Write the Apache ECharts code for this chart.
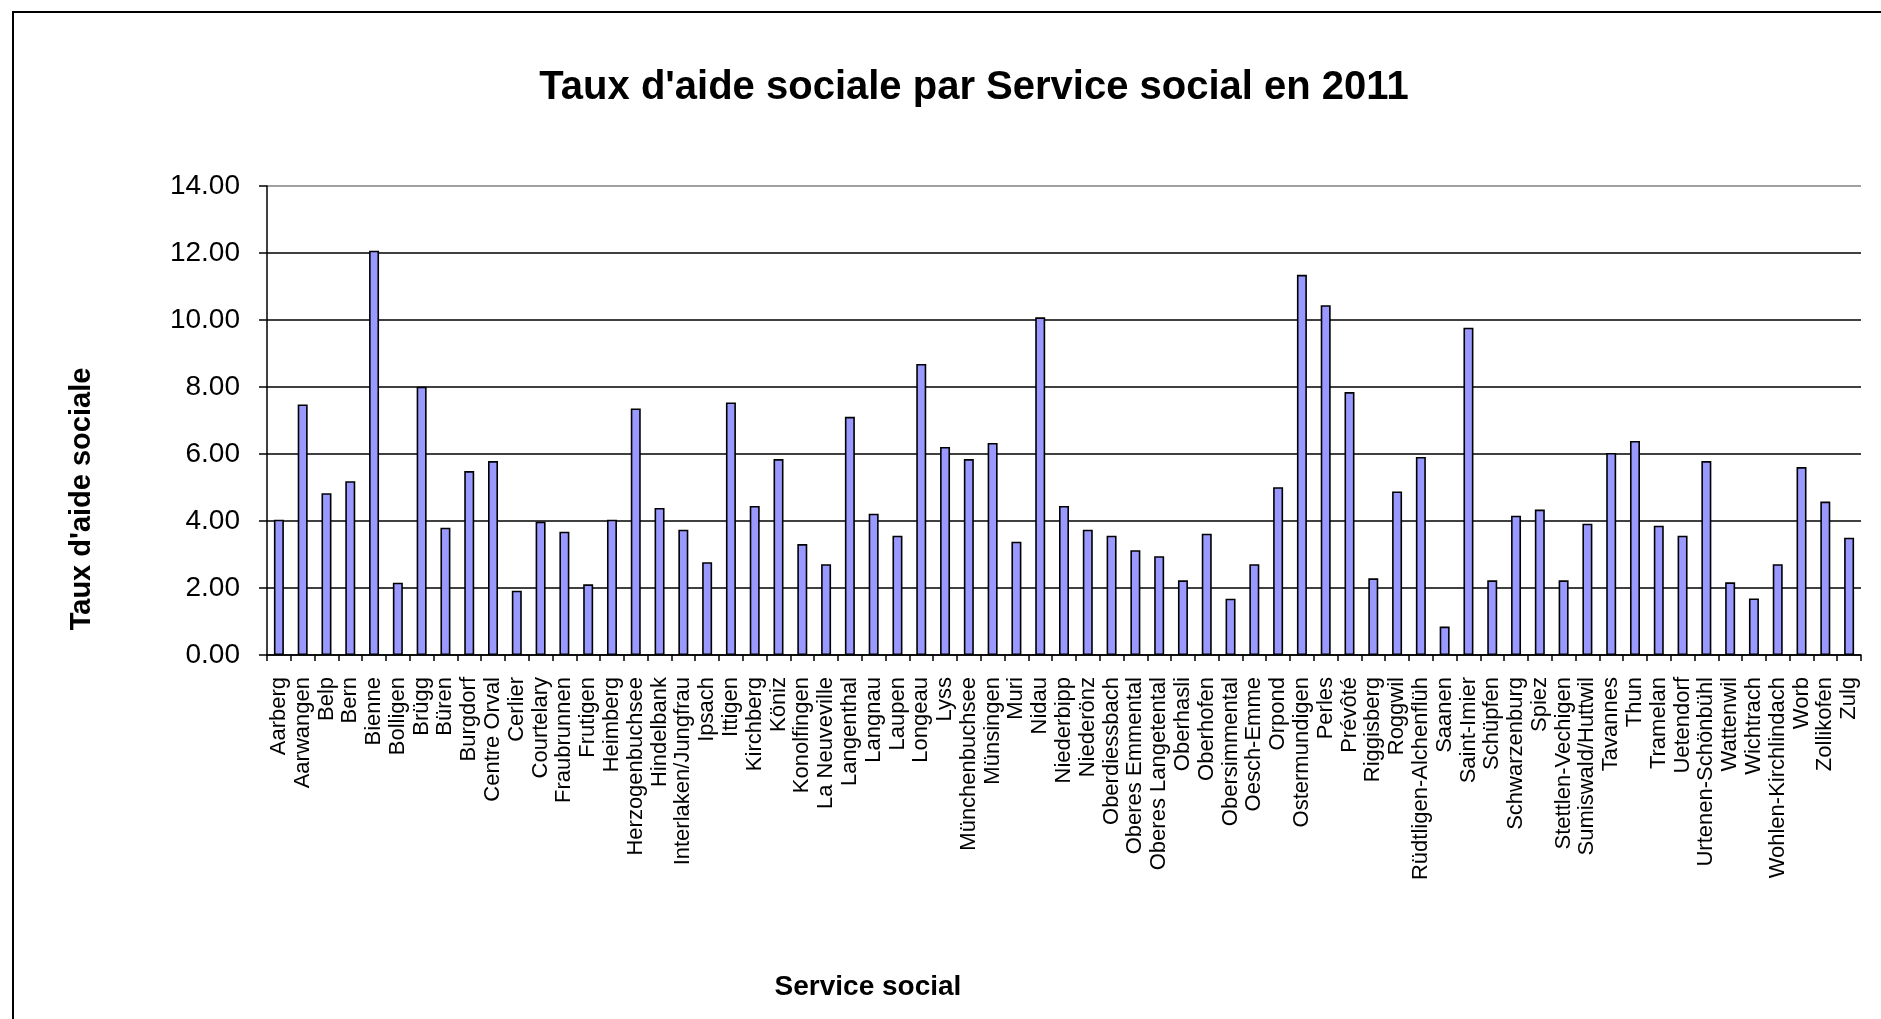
<!DOCTYPE html>
<html>
<head>
<meta charset="utf-8">
<script src="https://cdn.jsdelivr.net/npm/echarts@6/dist/echarts.min.js"></script>
<style>
html,body{margin:0;padding:0;background:#fff;}
#chart{width:1881px;height:1019px;}
</style>
</head>
<body>
<div id="chart"></div>
<script>
const titleText = "Taux d'aide sociale par Service social en 2011";
const yAxisTitle = "Taux d'aide sociale";
const xAxisTitle = "Service social";

const categories = [
  "Aarberg","Aarwangen","Belp","Bern","Bienne","Bolligen","Brügg","Büren","Burgdorf","Centre Orval",
  "Cerlier","Courtelary","Fraubrunnen","Frutigen","Heimberg","Herzogenbuchsee","Hindelbank","Interlaken/Jungfrau","Ipsach","Ittigen",
  "Kirchberg","Köniz","Konolfingen","La Neuveville","Langenthal","Langnau","Laupen","Longeau","Lyss","Münchenbuchsee",
  "Münsingen","Muri","Nidau","Niederbipp","Niederönz","Oberdiessbach","Oberes Emmental","Oberes Langetental","Oberhasli","Oberhofen",
  "Obersimmental","Oesch-Emme","Orpond","Ostermundigen","Perles","Prévôté","Riggisberg","Roggwil","Rüdtligen-Alchenflüh","Saanen",
  "Saint-Imier","Schüpfen","Schwarzenburg","Spiez","Stettlen-Vechigen","Sumiswald/Huttwil","Tavannes","Thun","Tramelan","Uetendorf",
  "Urtenen-Schönbühl","Wattenwil","Wichtrach","Wohlen-Kirchlindach","Worb","Zollikofen","Zulg"
];

const rates = [
  4.04, 7.48, 4.83, 5.19, 12.07, 2.16, 8.01, 3.80, 5.49, 5.79,
  1.92, 3.98, 3.68, 2.11, 4.04, 7.36, 4.39, 3.74, 2.77, 7.54,
  4.45, 5.85, 3.31, 2.71, 7.11, 4.22, 3.56, 8.69, 6.21, 5.85,
  6.33, 3.38, 10.08, 4.45, 3.74, 3.56, 3.13, 2.95, 2.23, 3.62,
  1.68, 2.71, 5.01, 11.35, 10.44, 7.85, 2.29, 4.88, 5.91, 0.85,
  9.77, 2.23, 4.16, 4.34, 2.23, 3.92, 6.03, 6.39, 3.86, 3.56,
  5.79, 2.17, 1.69, 2.71, 5.61, 4.58, 3.50
];

const yMin = 0, yMax = 14, yStep = 2;

const FONT = "'Liberation Sans', Arial, sans-serif";
const chart = echarts.init(document.getElementById('chart'), null, {renderer: 'canvas'});

chart.setOption({
  backgroundColor: '#ffffff',
  animation: false,
  grid: {left: 267, right: 20, top: 186, bottom: 364, containLabel: false},
  graphic: [
    {type: 'rect', z: 100, shape: {x: 13, y: 12, width: 1900, height: 1100},
     style: {fill: 'none', stroke: '#000', lineWidth: 2}},
    {type: 'text', x: 974, y: 88, z: 100,
     style: {text: titleText, font: 'bold 40px ' + FONT, fill: '#000', textAlign: 'center', textVerticalAlign: 'middle'}},
    {type: 'text', x: 82, y: 499, rotation: Math.PI / 2, z: 100,
     style: {text: yAxisTitle, font: 'bold 29px ' + FONT, fill: '#000', textAlign: 'center', textVerticalAlign: 'middle'}},
    {type: 'text', x: 868, y: 987, z: 100,
     style: {text: xAxisTitle, font: 'bold 28px ' + FONT, fill: '#000', textAlign: 'center', textVerticalAlign: 'middle'}}
  ],
  xAxis: {
    type: 'category',
    data: categories,
    boundaryGap: true,
    axisLine: {show: true, lineStyle: {color: '#000', width: 1.5}},
    axisTick: {show: true, alignWithLabel: false, length: 6, lineStyle: {color: '#000', width: 1.5}},
    axisLabel: {rotate: 90, interval: 0, margin: 22, fontSize: 22, color: '#000', fontFamily: FONT},
    splitLine: {show: false}
  },
  yAxis: {
    type: 'value',
    min: yMin, max: yMax, interval: yStep,
    axisLine: {show: true, lineStyle: {color: '#000', width: 1.5}},
    axisTick: {show: true, length: 8, lineStyle: {color: '#000', width: 1.5}},
    axisLabel: {margin: 27, fontSize: 28, color: '#000', fontFamily: FONT,
      formatter: function (v) { return v.toFixed(2); }},
    splitLine: {show: true, lineStyle: {color: ['#000','#000','#000','#000','#000','#000','#000','#808080'], width: 1.6}}
  },
  series: [{
    type: 'bar',
    data: rates,
    barWidth: 10,
    itemStyle: {color: '#9999ff', borderColor: '#000', borderWidth: 1.6},
    silent: true
  }]
});
</script>
</body>
</html>
